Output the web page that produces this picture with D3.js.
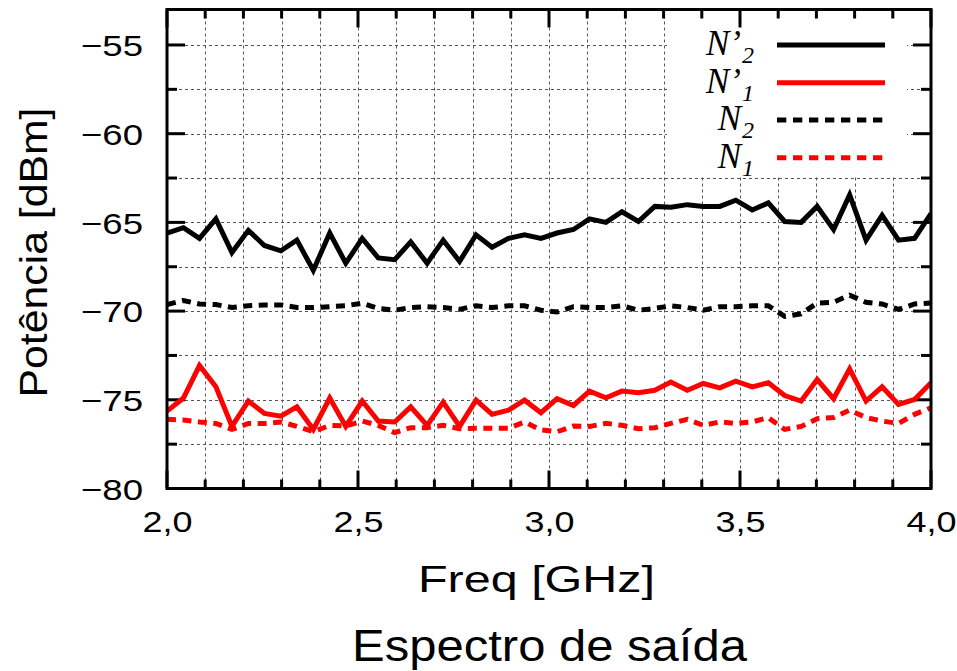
<!DOCTYPE html>
<html>
<head>
<meta charset="utf-8">
<script src="https://cdn.jsdelivr.net/npm/d3@7"></script>
<style>
  html, body { margin: 0; padding: 0; background: #fff; }
  svg { display: block; }
</style>
</head>
<body>
<svg id="chart" width="957" height="671"></svg>
<script>
// ---- data ----
const freq = [2.000, 2.043, 2.085, 2.128, 2.170, 2.213, 2.255, 2.298, 2.340, 2.383,
              2.426, 2.468, 2.511, 2.553, 2.596, 2.638, 2.681, 2.723, 2.766, 2.809,
              2.851, 2.894, 2.936, 2.979, 3.021, 3.064, 3.106, 3.149, 3.191, 3.234,
              3.277, 3.319, 3.362, 3.404, 3.447, 3.489, 3.532, 3.574, 3.617, 3.660,
              3.702, 3.745, 3.787, 3.830, 3.872, 3.915, 3.957, 4.000];

const nPrime2 = [-65.6, -65.3, -65.9, -64.8, -66.7, -65.45, -66.3, -66.6, -66.0, -67.7,
                 -65.6, -67.3, -65.9, -67.0, -67.1, -66.1, -67.3, -66.0, -67.2, -65.7,
                 -66.4, -65.9, -65.7, -65.9, -65.6, -65.4, -64.8, -65.0, -64.4, -64.95,
                 -64.1, -64.15, -64.0, -64.1, -64.1, -63.75, -64.3, -63.9, -64.95, -65.0,
                 -64.1, -65.4, -63.45, -66.0, -64.6, -66.0, -65.9, -64.5];

const nPrime1 = [-75.64, -74.9, -73.07, -74.27, -76.5, -75.07, -75.77, -75.92, -75.4, -76.67,
                 -74.9, -76.5, -75.07, -76.2, -76.25, -75.4, -76.44, -75.13, -76.5, -75.02,
                 -75.82, -75.58, -75.02, -75.73, -74.94, -75.32, -74.51, -74.89, -74.51, -74.6,
                 -74.46, -74.0, -74.46, -74.08, -74.33, -73.95, -74.27, -74.04, -74.76, -75.07,
                 -73.86, -74.94, -73.26, -75.07, -74.27, -75.26, -74.98, -74.04];

const n2 = [-69.63, -69.4, -69.6, -69.63, -69.8, -69.7, -69.65, -69.65, -69.8, -69.8,
            -69.75, -69.7, -69.55, -69.85, -69.95, -69.8, -69.75, -69.8, -69.9, -69.7,
            -69.8, -69.7, -69.7, -69.95, -70.05, -69.75, -69.8, -69.8, -69.7, -69.95,
            -69.85, -69.7, -69.8, -69.95, -69.75, -69.75, -69.7, -69.7, -70.3, -70.15,
            -69.55, -69.5, -69.1, -69.5, -69.6, -69.9, -69.6, -69.55];

const n1 = [-76.1, -76.14, -76.25, -76.33, -76.67, -76.33, -76.33, -76.25, -76.5, -76.8,
            -76.44, -76.48, -76.2, -76.44, -76.85, -76.57, -76.57, -76.44, -76.63, -76.6,
            -76.6, -76.6, -76.25, -76.7, -76.8, -76.48, -76.5, -76.33, -76.44, -76.63,
            -76.57, -76.33, -76.1, -76.44, -76.25, -76.33, -76.25, -76.0, -76.67, -76.5,
            -76.07, -76.0, -75.58, -76.0, -76.2, -76.33, -75.82, -75.45];

const xMajorTicks = [2.0, 2.5, 3.0, 3.5, 4.0];
const xMinorTicks = [2.1, 2.2, 2.3, 2.4, 2.6, 2.7, 2.8, 2.9, 3.1, 3.2, 3.3, 3.4, 3.6, 3.7, 3.8, 3.9];
const yMajorTicks = [-80, -75, -70, -65, -60, -55];
const yMinorTicks = [-77.5, -72.5, -67.5, -62.5, -57.5];
const xTickLabels = ["2,0", "2,5", "3,0", "3,5", "4,0"];
const yTickLabels = ["−80", "−75", "−70", "−65", "−60", "−55"];

const seriesNames = ["N’", "N’", "N", "N"];
const seriesSubs = ["2", "1", "2", "1"];
const seriesColors = ["#000000", "#ff0000", "#000000", "#ff0000"];
const seriesDashed = [false, false, true, true];
const seriesValues = [nPrime2, nPrime1, n2, n1];

const xTitle = "Freq [GHz]";
const yTitle = "Potência [dBm]";
const chartTitle = "Espectro de saída";

// ---- layout ----
const L = 167, R = 931, T = 9.5, B = 488.5;
const svg = d3.select("#chart");
const x = d3.scaleLinear().domain([2, 4]).range([L, R]);
const y = d3.scaleLinear().domain([-80, -53]).range([B, T]);
const sansFont = "'Liberation Sans', Arial, sans-serif";

// grid
const grid = svg.append("g").attr("stroke", "#555").attr("stroke-width", 1)
  .attr("stroke-dasharray", "3,3").attr("fill", "none");
grid.selectAll("line.vx").data(xMinorTicks.concat([2.5, 3.0, 3.5])).join("line")
  .attr("x1", d => Math.round(x(d)) + 0.5).attr("x2", d => Math.round(x(d)) + 0.5)
  .attr("y1", T).attr("y2", B);
grid.selectAll("line.hy").data(yMinorTicks.concat([-75, -70, -65, -60, -55])).join("line")
  .attr("x1", L).attr("x2", R)
  .attr("y1", d => Math.round(y(d)) + 0.5).attr("y2", d => Math.round(y(d)) + 0.5);

// legend background box
svg.append("rect").attr("x", 667).attr("y", T).attr("width", 240).attr("height", 166).attr("fill", "#fff");

// tick marks
const ticks = svg.append("g").attr("stroke", "#000").attr("stroke-width", 3);
function tickSet(vals, len) {
  ticks.append("g").selectAll("line").data(vals).join("line")
    .attr("x1", d => x(d)).attr("x2", d => x(d)).attr("y1", B).attr("y2", B - len);
  ticks.append("g").selectAll("line").data(vals).join("line")
    .attr("x1", d => x(d)).attr("x2", d => x(d)).attr("y1", T).attr("y2", T + len);
}
function tickSetY(vals, len) {
  ticks.append("g").selectAll("line").data(vals).join("line")
    .attr("y1", d => y(d)).attr("y2", d => y(d)).attr("x1", L).attr("x2", L + len);
  ticks.append("g").selectAll("line").data(vals).join("line")
    .attr("y1", d => y(d)).attr("y2", d => y(d)).attr("x1", R).attr("x2", R - len);
}
tickSet(xMajorTicks, 18);
tickSet(xMinorTicks, 9);
tickSetY(yMajorTicks, 18);
tickSetY(yMinorTicks, 10);

// axes labels via d3 axes
const xAxis = d3.axisBottom(x).tickValues(xMajorTicks)
  .tickFormat((d, i) => xTickLabels[i]).tickSize(0);
const gx = svg.append("g").attr("transform", `translate(0,${B})`).call(xAxis);
gx.select(".domain").remove();
gx.selectAll("text").attr("y", 43.5).attr("dy", 0)
  .attr("font-family", sansFont).attr("font-size", 30).attr("fill", "#000")
  .attr("textLength", 50).attr("lengthAdjust", "spacingAndGlyphs");

const yAxis = d3.axisLeft(y).tickValues(yMajorTicks)
  .tickFormat((d, i) => yTickLabels[i]).tickSize(0);
const gy = svg.append("g").attr("transform", `translate(${L},0)`).call(yAxis);
gy.select(".domain").remove();
gy.selectAll("text").attr("x", -24).attr("dy", "0.36em")
  .attr("font-family", sansFont).attr("font-size", 30).attr("fill", "#000")
  .attr("textLength", 62).attr("lengthAdjust", "spacingAndGlyphs");

// data lines
svg.append("clipPath").attr("id", "plotclip").append("rect")
  .attr("x", L).attr("y", T).attr("width", R - L).attr("height", B - T);
const lineGen = d3.line().x((d, i) => x(freq[i])).y(d => y(d));
const linesG = svg.append("g").attr("clip-path", "url(#plotclip)");
[2, 3, 0, 1].forEach(k => {
  linesG.append("path").datum(seriesValues[k])
    .attr("d", lineGen).attr("fill", "none")
    .attr("stroke", seriesColors[k]).attr("stroke-width", 5)
    .attr("stroke-linejoin", "miter")
    .attr("stroke-dasharray", seriesDashed[k] ? "9,6.5" : null);
});

// frame
svg.append("rect").attr("x", L).attr("y", T).attr("width", R - L).attr("height", B - T)
  .attr("fill", "none").attr("stroke", "#000").attr("stroke-width", 3);

// legend
const legRows = [45, 82.7, 120, 157.7];
const leg = svg.append("g");
seriesValues.forEach((s, k) => {
  const ly = legRows[k];
  leg.append("line").attr("x1", 777).attr("x2", 885).attr("y1", ly).attr("y2", ly)
    .attr("stroke", seriesColors[k]).attr("stroke-width", 5)
    .attr("stroke-dasharray", seriesDashed[k] ? "9.3,6.7" : null);
  const t = leg.append("text").attr("x", 754).attr("y", ly + 10)
    .attr("text-anchor", "end")
    .attr("font-family", "'Liberation Serif', 'Times New Roman', serif")
    .attr("font-style", "italic").attr("font-size", 35).attr("fill", "#000");
  t.append("tspan").text(seriesNames[k]);
  t.append("tspan").attr("font-size", 24).attr("dy", 8).attr("dx", 1).text(seriesSubs[k]);
});

// titles
svg.append("text").attr("x", 536.5).attr("y", 592).attr("text-anchor", "middle")
  .attr("font-family", sansFont).attr("font-size", 36).attr("fill", "#000")
  .attr("textLength", 237).attr("lengthAdjust", "spacingAndGlyphs").text(xTitle);

svg.append("text").attr("transform", "translate(47,252.5) rotate(-90)")
  .attr("text-anchor", "middle")
  .attr("font-family", sansFont).attr("font-size", 39).attr("fill", "#000")
  .attr("textLength", 290).attr("lengthAdjust", "spacingAndGlyphs").text(yTitle);

svg.append("text").attr("x", 549.5).attr("y", 661).attr("text-anchor", "middle")
  .attr("font-family", sansFont).attr("font-size", 44).attr("fill", "#000")
  .attr("textLength", 395).attr("lengthAdjust", "spacingAndGlyphs").text(chartTitle);
</script>
</body>
</html>
